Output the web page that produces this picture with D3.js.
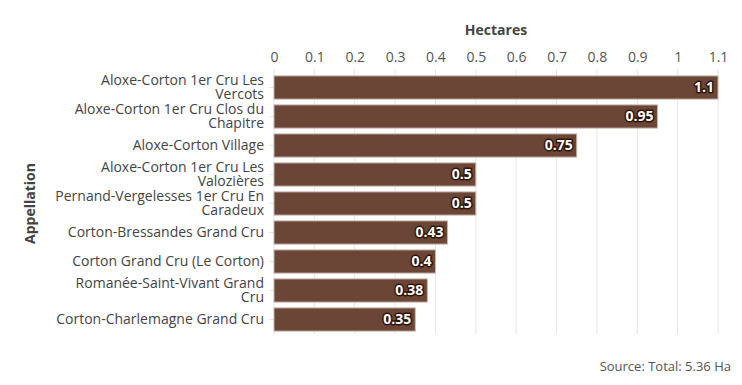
<!DOCTYPE html>
<html>
<head>
<meta charset="utf-8">
<script src="https://cdn.jsdelivr.net/npm/d3@7"></script>
<style>
  body { margin: 0; background: #fff; }
  svg text { font-family: "Open Sans", "Noto Sans", sans-serif; }
</style>
</head>
<body>
<svg id="chart" width="742" height="385"></svg>
<script>
// Chart data
const appellations = [
  "Aloxe-Corton 1er Cru Les Vercots",
  "Aloxe-Corton 1er Cru Clos du Chapitre",
  "Aloxe-Corton Village",
  "Aloxe-Corton 1er Cru Les Valozières",
  "Pernand-Vergelesses 1er Cru En Caradeux",
  "Corton-Bressandes Grand Cru",
  "Corton Grand Cru (Le Corton)",
  "Romanée-Saint-Vivant Grand Cru",
  "Corton-Charlemagne Grand Cru"
];
const hectares = [1.1, 0.95, 0.75, 0.5, 0.5, 0.43, 0.4, 0.38, 0.35];
const xTicks = [0, 0.1, 0.2, 0.3, 0.4, 0.5, 0.6, 0.7, 0.8, 0.9, 1, 1.1];

const width = 742;
const height = 385;
const margin = { top: 73, right: 24, bottom: 51, left: 274 };
const maxLabelWidth = 211;

const svg = d3.select("#chart");

const xScale = d3.scaleLinear()
    .domain([0, 1.1])
    .range([margin.left, width - margin.right]);

const yScale = d3.scaleBand()
    .domain(appellations)
    .range([margin.top, height - margin.bottom])
    .paddingInner(0.2)
    .paddingOuter(0.1);

// grid lines
svg.append("g")
    .selectAll("line")
    .data(xTicks)
    .join("line")
    .attr("x1", d => xScale(d))
    .attr("x2", d => xScale(d))
    .attr("y1", margin.top - 4)
    .attr("y2", height - margin.bottom)
    .attr("stroke", "#e6e6e6")
    .attr("stroke-width", 1);

// x axis on top
const xAxis = svg.append("g")
    .attr("transform", `translate(0,${margin.top - 9})`)
    .call(d3.axisTop(xScale).tickValues(xTicks).tickFormat(d3.format("")).tickSize(0).tickPadding(2));
xAxis.select(".domain").remove();
xAxis.selectAll("text")
    .attr("fill", "#555")
    .style("font-size", "14px");

// y axis
const yAxis = svg.append("g")
    .attr("transform", `translate(${margin.left},0)`)
    .call(d3.axisLeft(yScale).tickSize(5).tickPadding(5));
yAxis.select(".domain").remove();
yAxis.selectAll(".tick line").attr("stroke", "#e6e6e6");
yAxis.selectAll(".tick text")
    .attr("fill", "#444")
    .style("font-size", "14px")
    .each(function(d) {
        // wrap labels wider than maxLabelWidth onto two lines
        const t = d3.select(this);
        if (this.getComputedTextLength() <= maxLabelWidth) return;
        const words = d.split(" ");
        const line1 = [];
        const rest = words.slice();
        t.text(null);
        const probe = t.append("tspan");
        while (rest.length) {
            probe.text(line1.concat(rest[0]).join(" "));
            if (probe.node().getComputedTextLength() > maxLabelWidth) break;
            line1.push(rest.shift());
        }
        probe.remove();
        t.attr("dy", null);
        t.append("tspan").attr("x", -10).attr("dy", "-0.2em").text(line1.join(" "));
        t.append("tspan").attr("x", -10).attr("dy", "1.0em").text(rest.join(" "));
    });

// bars
svg.append("g")
    .selectAll("rect")
    .data(hectares)
    .join("rect")
    .attr("x", xScale(0))
    .attr("y", (d, i) => yScale(appellations[i]))
    .attr("width", d => xScale(d) - xScale(0))
    .attr("height", yScale.bandwidth())
    .attr("fill", "#6b4536")
    .attr("stroke", "#c9b8b0")
    .attr("stroke-width", 1);

// value labels
svg.append("g")
    .selectAll("text")
    .data(hectares)
    .join("text")
    .attr("x", d => xScale(d) - 4)
    .attr("y", (d, i) => yScale(appellations[i]) + yScale.bandwidth() / 2)
    .attr("dy", "0.35em")
    .attr("text-anchor", "end")
    .attr("fill", "#fff")
    .attr("stroke", "#2e1409")
    .attr("stroke-width", 3)
    .attr("paint-order", "stroke")
    .attr("stroke-linejoin", "round")
    .style("font-size", "14px")
    .style("font-weight", "bold")
    .text(d => d);

// axis titles
svg.append("text")
    .attr("x", (xScale(0) + xScale(1.1)) / 2)
    .attr("y", 35)
    .attr("text-anchor", "middle")
    .attr("fill", "#444")
    .style("font-size", "14px")
    .style("font-weight", "bold")
    .text("Hectares");

svg.append("text")
    .attr("transform", `translate(35,${(margin.top + height - margin.bottom) / 2}) rotate(-90)`)
    .attr("text-anchor", "middle")
    .attr("fill", "#444")
    .style("font-size", "14px")
    .style("font-weight", "bold")
    .text("Appellation");

// source
svg.append("text")
    .attr("x", 731)
    .attr("y", 371)
    .attr("text-anchor", "end")
    .attr("fill", "#555")
    .style("font-size", "13px")
    .text("Source: Total: 5.36 Ha");
</script>
</body>
</html>
